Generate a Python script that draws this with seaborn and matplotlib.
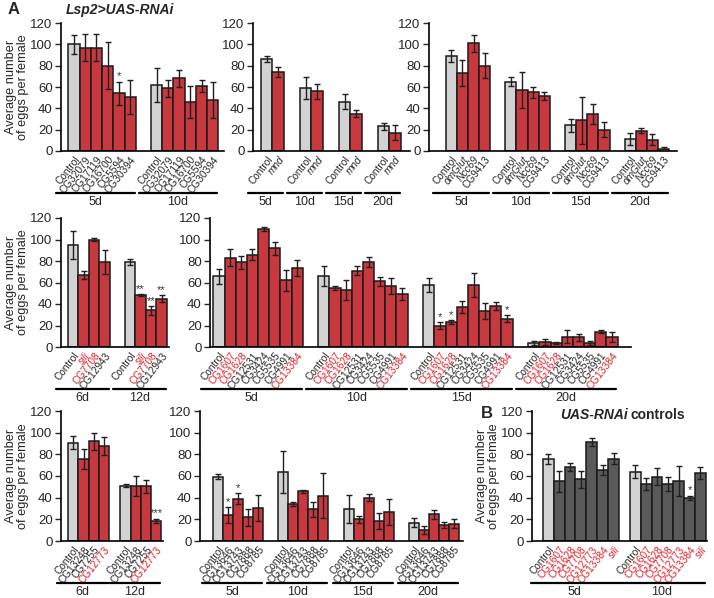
import pandas as pd
import matplotlib.pyplot as plt
import seaborn as sns

sns.set_style("ticks")
plt.rcParams['font.family'] = ['Liberation Sans', 'DejaVu Sans']

RED = '#e0202a'
GREY = '#d2d2d2'
DARK = '#5a5a5a'
YLAB = 'Average number\nof eggs per female'

# ---- panel A1 : Lsp2>UAS-RNAi, CG genes
p1_groups = ['5d', '10d']
p1_labels = ['Control', 'CG32079', 'CG17119', 'CG16700', 'CG5594', 'CG30394']
p1_means = [[100, 97, 97, 80, 54, 51], [62, 59, 68, 46, 61, 48]]
p1_errs = [[9, 13, 13, 22, 11, 16], [16, 8, 8, 15, 6, 17]]
p1_stars = [['', '', '', '', '*', ''], ['', '', '', '', '', '']]

# ---- panel A2 : mnd
p2_groups = ['5d', '10d', '15d', '20d']
p2_labels = ['Control', 'mnd']
p2_means = [[86, 74], [59, 56], [46, 35], [23, 17]]
p2_errs = [[3, 5], [10, 7], [7, 3], [3, 7]]

# ---- panel A3 : dmGlut / Ncc69 / CG9413
p3_groups = ['5d', '10d', '15d', '20d']
p3_labels = ['Control', 'dmGlut', 'Ncc69', 'CG9413']
p3_means = [[89, 73, 101, 80], [65, 57, 55, 51.5], [24, 29, 35, 20], [11.5, 19, 10.6, 2]]
p3_errs = [[6, 12, 8, 12], [4, 17, 5, 3.5], [6, 22, 9.5, 7], [5.5, 2.5, 5, 1.5]]

# ---- panel A4 : sili
p4_groups = ['6d', '12d']
p4_labels = ['Control', 'sili', 'CG7708', 'CG12943']
p4_means = [[95, 67, 100, 79], [79, 48, 34, 45]]
p4_errs = [[13, 4, 1, 11], [2.5, 1, 4, 3]]
p4_stars = [['', '', '', ''], ['', '**', '**', '**']]
p4_red = ['sili', 'CG7708']

# ---- panel A5 : CG1607 ... CG13384
p5_groups = ['5d', '10d', '15d', '20d']
p5_labels = ['Control', 'CG1607', 'CG1628', 'CG12531', 'CG3424', 'CG5535', 'CG4991', 'CG13384']
p5_means = [[66, 83, 79, 86, 110, 92, 62, 73.5],
            [66, 55, 53, 71, 79, 61, 57, 49],
            [57.5, 20, 23, 37.5, 57.5, 33.4, 38, 26.5],
            [4, 4.7, 3.75, 9.4, 9, 3.75, 14.4, 9.4]]
p5_errs = [[7, 8, 6, 5, 2, 6, 10, 7],
           [9, 2, 9, 4, 4.5, 4.5, 7.5, 5.5],
           [6.5, 3, 2, 5.5, 11, 7.5, 4, 3],
           [2, 3, 1, 6, 3.5, 2, 1.3, 5]]
p5_stars = [[''] * 8, [''] * 8, ['', '*', '*', '', '', '', '', '*'], [''] * 8]
p5_red = ['CG1607', 'CG1628', 'CG13384']

# ---- panel A6 : CG13248 / CG7255 / CG12773
p6_groups = ['6d', '12d']
p6_labels = ['Control', 'CG13248', 'CG7255', 'CG12773']
p6_means = [[90.5, 75.5, 92, 87.7], [51, 51, 50.6, 18.7]]
p6_errs = [[6, 9, 8, 8], [1.5, 9, 6, 2]]
p6_stars = [['', '', '', ''], ['', '', '', '***']]
p6_red = ['CG12773']

# ---- panel A7 : CG13646 ... CG8785
p7_groups = ['5d', '10d', '15d', '20d']
p7_labels = ['Control', 'CG13646', 'CG13743', 'CG7888', 'CG8785']
p7_means = [[59.5, 24, 39, 22, 30.7], [64, 34, 46, 29.4, 41.8],
            [29.4, 20, 40, 18.4, 26.4], [17, 10, 24.5, 14.7, 16]]
p7_errs = [[2, 7, 5, 8, 12], [19.5, 2, 1.5, 7, 20.7],
           [13, 3, 3.5, 7, 12], [4, 3.5, 4.5, 2.5, 4]]
p7_stars = [['', '*', '*', '', ''], [''] * 5, [''] * 5, [''] * 5]

# ---- panel B : UAS-RNAi controls
p8_groups = ['5d', '10d']
p8_labels = ['Control', 'CG1607', 'CG1628', 'CG7708', 'CG12773', 'CG13384', 'sili']
p8_means = [[76, 55, 68.6, 57, 91.4, 65.5, 76], [64, 53, 59.4, 53, 55.4, 40, 62.5]]
p8_errs = [[4.6, 10, 3.7, 8, 3.5, 4.5, 5], [6, 5.5, 8, 6.5, 14, 2, 5.5]]
p8_stars = [[''] * 7, ['', '', '', '', '', '*', '']]
p8_red = ['CG1607', 'CG1628', 'CG7708', 'CG12773', 'CG13384', 'sili']

ITALIC = ['mnd', 'dmGlut', 'Ncc69', 'sili']

W, H = 714, 598
fig = plt.figure(figsize=(W / 100, H / 100), dpi=100)


def panel(left, right, base, top, groups, labels, means, errs, stars=None,
          bar_color=RED, red=(), gap=1.4, lpad=0.7, rpad=0.5, ylabel=True):
    ax = fig.add_axes([left / W, 1 - base / H, (right - left) / W, (base - top) / H])
    rows = []
    spans = []
    pos = 0.0
    for gi, g in enumerate(groups):
        start = pos
        for j, lab in enumerate(labels):
            rows.append({'x': pos, 'key': f'{gi}_{j}', 'mean': means[gi][j], 'err': errs[gi][j],
                         'label': lab, 'star': stars[gi][j] if stars else '',
                         'color': GREY if j == 0 else bar_color})
            pos += 1
        spans.append((start, pos - 1, g))
        pos += gap
    df = pd.DataFrame(rows)
    sns.barplot(data=df, x='x', y='mean', hue='key', palette=dict(zip(df['key'], df['color'])),
                native_scale=True, width=1, dodge=False, errorbar=None, legend=False,
                edgecolor='#1a1a1a', linewidth=1.1, ax=ax)
    ax.errorbar(df['x'], df['mean'], yerr=df['err'], fmt='none', ecolor='#202020',
                elinewidth=1, capsize=2, capthick=1, zorder=5)
    for _, r in df.iterrows():
        if r['star']:
            ax.text(r['x'], r['mean'] + r['err'] + 0.5, r['star'], ha='center', va='bottom',
                    fontsize=8, color='#333333')
    ax.set_xlim(-0.5 - lpad, df['x'].iloc[-1] + 0.5 + rpad)
    ax.set_ylim(0, 120)
    ax.set_yticks(range(0, 121, 20))
    ax.set_xticks(df['x'])
    ax.set_xticklabels(df['label'], rotation=52, ha='right', va='top',
                       rotation_mode='anchor', fontsize=7.3)
    for t in ax.get_xticklabels():
        if t.get_text() in red:
            t.set_color(RED)
        if t.get_text() in ITALIC:
            t.set_style('italic')
    ax.tick_params(axis='x', length=0, pad=2.5)
    ax.tick_params(axis='y', length=4, width=1, labelsize=9.5, pad=2)
    ax.set_xlabel('')
    ax.set_ylabel('')
    sns.despine(ax=ax)
    for s in ['left', 'bottom']:
        ax.spines[s].set_linewidth(1.2)
        ax.spines[s].set_color('black')
    hpx = base - top
    trans = ax.get_xaxis_transform()
    for a, b, g in spans:
        x0, x1 = a - 1.6, b + 0.4
        ax.plot([x0, x1], [-42 / hpx, -42 / hpx], color='black', lw=1.6,
                transform=trans, clip_on=False)
        ax.text((x0 + x1) / 2, -51 / hpx, g, ha='center', va='center',
                fontsize=9, transform=trans)
    if ylabel:
        fig.text((left - 44) / W, 1 - (base + top) / 2 / H, YLAB, rotation=90,
                 ha='center', va='center', fontsize=9.2, linespacing=1.05)
    return ax


panel(61, 224, 151, 23, p1_groups, p1_labels, p1_means, p1_errs, p1_stars,
      gap=1.35, lpad=0.65, rpad=0.5)
panel(253, 410, 151, 23, p2_groups, p2_labels, p2_means, p2_errs,
      gap=1.4, lpad=0.7, rpad=0.8, ylabel=False)
panel(429, 677, 151, 23, p3_groups, p3_labels, p3_means, p3_errs,
      gap=1.35, lpad=1.5, rpad=0.7, ylabel=False)
panel(61, 169, 347, 218, p4_groups, p4_labels, p4_means, p4_errs, p4_stars,
      red=p4_red, gap=1.4, lpad=0.65, rpad=0.2)
panel(210, 631, 347, 218, p5_groups, p5_labels, p5_means, p5_errs, p5_stars,
      red=p5_red, gap=1.4, lpad=0.3, rpad=1.2, ylabel=False)
panel(61, 163, 541, 411, p6_groups, p6_labels, p6_means, p6_errs, p6_stars,
      red=p6_red, gap=1.1, lpad=0.7, rpad=0.15)
panel(200, 463, 541, 411, p7_groups, p7_labels, p7_means, p7_errs, p7_stars,
      gap=1.5, lpad=1.3, rpad=0.4, ylabel=False)
panel(532, 707, 541, 411, p8_groups, p8_labels, p8_means, p8_errs, p8_stars,
      bar_color=DARK, red=p8_red, gap=1.0, lpad=1.0, rpad=0.1)

fig.text(8 / W, 1 - 10 / H, 'A', fontsize=12, fontweight='bold', va='center', ha='left')
fig.text(66 / W, 1 - 10 / H, 'Lsp2>UAS-RNAi', fontsize=10, fontweight='bold',
         style='italic', va='center', ha='left')
fig.text(481 / W, 1 - 413 / H, 'B', fontsize=12, fontweight='bold', va='center', ha='left')
t1 = fig.text(560 / W, 1 - 415 / H, 'UAS-RNAi', fontsize=10, fontweight='bold',
              style='italic', va='center', ha='left')
bb = t1.get_window_extent(renderer=fig.canvas.get_renderer())
fig.text((bb.x1 + 3) / W, 1 - 415 / H, 'controls', fontsize=10, fontweight='bold',
         va='center', ha='left')

fig.savefig('out.png', dpi=100)
